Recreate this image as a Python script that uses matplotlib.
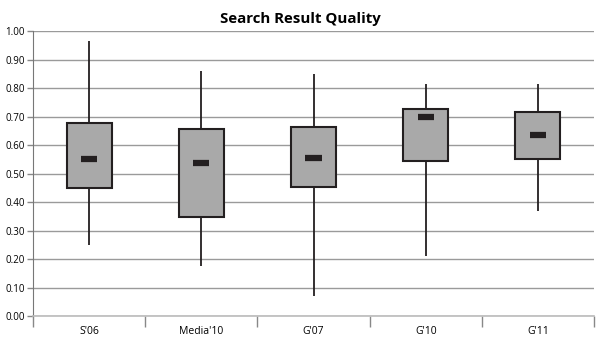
import matplotlib.pyplot as plt
import numpy as np

categories = ["S'06", "Media'10", "G'07", "G'10", "G'11"]
whisker_high = [0.965, 0.86, 0.85, 0.815, 0.815]
box_top = [0.677, 0.657, 0.662, 0.726, 0.715]
median = [0.550, 0.537, 0.556, 0.697, 0.634]
box_bottom = [0.450, 0.347, 0.453, 0.545, 0.550]
whisker_low = [0.248, 0.176, 0.071, 0.212, 0.370]

plt.rcParams['font.family'] = ['Open Sans', 'DejaVu Sans']

fig = plt.figure(figsize=(6, 3.42), dpi=100)
ax = fig.add_axes([0.055, 0.076, 0.935, 0.833])

x = np.arange(len(categories))
edge = '#231f20'

ax.vlines(x, whisker_low, whisker_high, color=edge, linewidth=1.3, zorder=2)
ax.bar(x, np.array(box_top) - np.array(box_bottom), bottom=box_bottom, width=0.4,
       color='#a9a9a9', edgecolor=edge, linewidth=1.5, zorder=3)
ax.hlines(median, x - 0.072, x + 0.072, color=edge, linewidth=4.5, zorder=4)

ax.set_xlim(-0.5, len(categories) - 0.5)
ax.set_ylim(0, 1.0)
ax.set_yticks(np.arange(0, 1.01, 0.1))
ax.set_yticklabels([f"{v:.2f}" for v in np.arange(0, 1.01, 0.1)], fontsize=7)
ax.yaxis.grid(True, color='#9a9a9a', linewidth=1)
ax.set_axisbelow(True)

ax.set_xticks(np.arange(-0.5, len(categories)), minor=False)
ax.set_xticklabels([])
ax.set_xticks(x, minor=True)
ax.set_xticklabels(categories, minor=True, fontsize=7.5)
ax.tick_params(axis='x', which='major', length=8, color='#888888', width=1)
ax.tick_params(axis='x', which='minor', length=0, pad=7)
ax.tick_params(axis='y', length=4, color='#888888', width=1, pad=2)

for s in ['top', 'right']:
    ax.spines[s].set_visible(False)
ax.spines['left'].set_color('#777777')
ax.spines['bottom'].set_color('#bbbbbb')
ax.spines['bottom'].set_linewidth(1.2)

ax.set_title("Search Result Quality", fontsize=10.8, fontweight='bold', pad=6,
             x=0.476)

fig.savefig('out.png', dpi=100)
